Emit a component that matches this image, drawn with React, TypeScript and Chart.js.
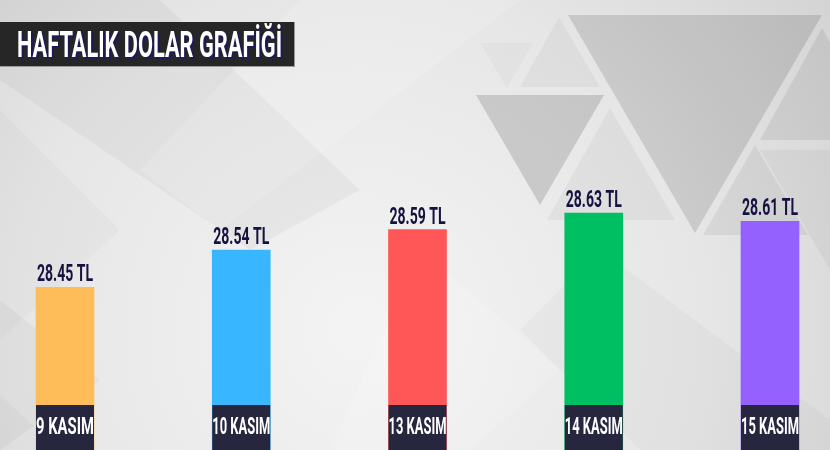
import React, { useEffect, useRef } from "react";
import { Chart, registerables } from "chart.js";

Chart.register(...registerables);

const title = "HAFTALIK DOLAR GRAFİĞİ";
const categories = ["9 KASIM", "10 KASIM", "13 KASIM", "14 KASIM", "15 KASIM"];
const rates = [28.45, 28.54, 28.59, 28.63, 28.61];
const valueLabels = ["28.45 TL", "28.54 TL", "28.59 TL", "28.63 TL", "28.61 TL"];
const barColors = ["#FFBD59", "#38B6FF", "#FF5757", "#00BF63", "#9461FF"];

const FONT = "Roboto";

function drawFit(
  ctx: CanvasRenderingContext2D,
  text: string,
  left: number,
  baseline: number,
  width: number,
  size: number,
  color: string,
  shadow?: string
) {
  ctx.save();
  ctx.font = `bold ${size}px ${FONT}`;
  const w = ctx.measureText(text).width;
  const s = width / w;
  ctx.translate(left, baseline);
  ctx.scale(s, 1);
  ctx.textAlign = "left";
  ctx.textBaseline = "alphabetic";
  if (shadow) {
    ctx.fillStyle = shadow;
    ctx.fillText(text, 2 / s, 2);
  }
  ctx.fillStyle = color;
  ctx.fillText(text, 0, 0);
  ctx.restore();
}

function poly(ctx: CanvasRenderingContext2D, pts: number[][], fill: string) {
  ctx.beginPath();
  ctx.moveTo(pts[0][0], pts[0][1]);
  for (let i = 1; i < pts.length; i++) ctx.lineTo(pts[i][0], pts[i][1]);
  ctx.closePath();
  ctx.fillStyle = fill;
  ctx.fill();
}

const backgroundPlugin = {
  id: "bgDecor",
  beforeDraw(chart: any) {
    const ctx: CanvasRenderingContext2D = chart.ctx;
    const W = chart.width;
    const H = chart.height;
    ctx.save();
    const g = ctx.createRadialGradient(360, 330, 20, 360, 330, 620);
    g.addColorStop(0, "#f3f3f3");
    g.addColorStop(0.55, "#e6e6e6");
    g.addColorStop(1, "#d0d0d0");
    ctx.fillStyle = g;
    ctx.fillRect(0, 0, W, H);

    // diagonal bands
    poly(ctx, [[0, 0], [160, 0], [360, 190], [250, 250], [0, 80]], "rgba(0,0,0,0.035)");
    poly(ctx, [[0, 110], [120, 230], [0, 340]], "rgba(0,0,0,0.02)");
    poly(ctx, [[300, 0], [520, 0], [220, 230], [140, 170]], "rgba(255,255,255,0.14)");
    poly(ctx, [[0, 300], [100, 380], [0, 450]], "rgba(0,0,0,0.03)");
    poly(ctx, [[0, 395], [60, 450], [0, 450]], "rgba(0,0,0,0.025)");
    poly(ctx, [[420, 250], [560, 370], [470, 450], [330, 450]], "rgba(255,255,255,0.15)");
    poly(ctx, [[600, 250], [830, 420], [830, 450], [640, 450], [520, 330]], "rgba(0,0,0,0.025)");

    // triangles top right
    poly(ctx, [[520, 87], [559, 17], [600, 87]], "rgba(0,0,0,0.035)");
    poly(ctx, [[480, 43], [533, 43], [507, 88]], "rgba(0,0,0,0.025)");
    poly(ctx, [[568, 15], [822, 15], [695, 233]], "rgba(0,0,0,0.12)");
    poly(ctx, [[476, 95], [604, 95], [540, 205]], "rgba(0,0,0,0.14)");
    poly(ctx, [[547, 220], [610, 108], [675, 220]], "rgba(0,0,0,0.04)");
    poly(ctx, [[703, 235], [755, 145], [808, 235]], "rgba(0,0,0,0.06)");
    poly(ctx, [[760, 140], [822, 28], [884, 140]], "rgba(0,0,0,0.07)");
    poly(ctx, [[760, 150], [830, 150], [830, 270]], "rgba(0,0,0,0.04)");

    // title box
    ctx.fillStyle = "#9a9a9a";
    ctx.fillRect(0, 22, 295, 45);
    ctx.fillStyle = "#262626";
    ctx.fillRect(0, 22, 294, 44);
    drawFit(ctx, title, 17, 57, 265, 37, "#ffffff", "#1d1a55");
    ctx.restore();
  },
};

const labelsPlugin = {
  id: "barLabels",
  afterDatasetsDraw(chart: any) {
    const ctx: CanvasRenderingContext2D = chart.ctx;
    const meta = chart.getDatasetMeta(0);
    const H = chart.height;
    meta.data.forEach((bar: any, i: number) => {
      const { x, y, width } = bar.getProps(["x", "y", "width"], true);
      const left = x - width / 2;
      // value label above bar
      drawFit(ctx, valueLabels[i], x - 28, y - 6, 56, 24, "#15123f");
      // category box at bottom
      ctx.fillStyle = "#27263f";
      ctx.fillRect(left, 405, width, H - 405);
      drawFit(ctx, categories[i], left, 434, width, 24, "#ffffff");
    });
  },
};

export default function App() {
  const ref = useRef<HTMLCanvasElement | null>(null);

  useEffect(() => {
    document.body.style.margin = "0";
    const canvas = ref.current;
    if (!canvas) return;
    const chart = new Chart(canvas, {
      type: "bar",
      data: {
        labels: categories,
        datasets: [
          {
            data: rates,
            backgroundColor: barColors,
            borderWidth: 0,
            barThickness: 58,
            clip: false as any,
          },
        ],
      },
      options: {
        responsive: false,
        animation: false,
        events: [],
        layout: { padding: { left: 65, right: 60, top: 0, bottom: 0 } },
        plugins: {
          legend: { display: false },
          tooltip: { enabled: false },
          title: { display: false },
        },
        scales: {
          x: {
            type: "category",
            offset: false,
            display: false,
            grid: { display: false },
          },
          y: {
            display: false,
            min: 28.056,
            max: 29.146,
            grid: { display: false },
          },
        },
      },
      plugins: [backgroundPlugin, labelsPlugin],
    });
    return () => chart.destroy();
  }, []);

  return (
    <div style={{ width: 830, height: 450 }}>
      <canvas ref={ref} width={830} height={450} style={{ display: "block", width: 830, height: 450 }} />
    </div>
  );
}
